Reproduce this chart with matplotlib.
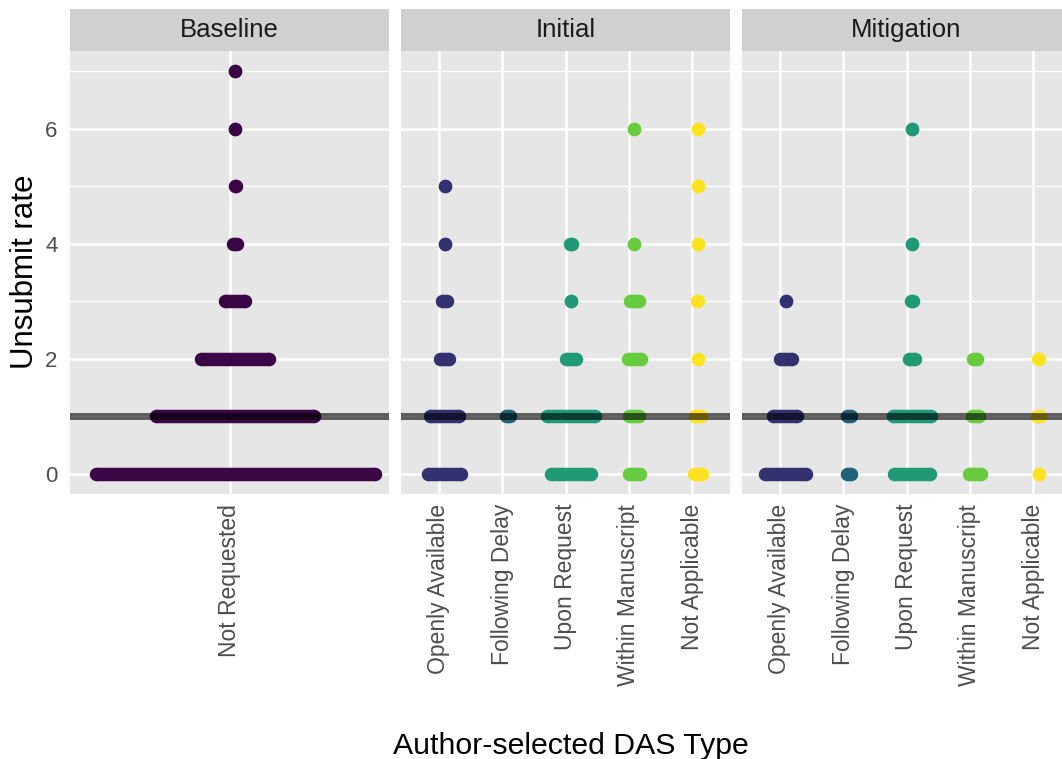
import matplotlib
matplotlib.use("Agg")
import matplotlib.pyplot as plt
from matplotlib.ticker import FixedLocator

plt.rcParams['font.family'] = ['Liberation Sans', 'DejaVu Sans']

# ---------------- data ----------------
panels = ["Baseline", "Initial", "Mitigation"]
baseline_categories = ["Not Requested"]
das_categories = ["Openly Available", "Following Delay", "Upon Request",
                  "Within Manuscript", "Not Applicable"]
category_colors = {
    "Not Requested": "#3a0646",
    "Openly Available": "#33316f",
    "Following Delay": "#21627b",
    "Upon Request": "#1f9a74",
    "Within Manuscript": "#67cb3f",
    "Not Applicable": "#fde21f",
}
y_ticks = [0, 2, 4, 6]
reference_rate = 1

# each streak: (unsubmit rate, leftmost jitter offset, rightmost jitter offset)
baseline_not_requested = [(7, 0.021, 0.021), (6, 0.021, 0.021), (5, 0.019, 0.026),
                          (4, 0.013, 0.028), (3, -0.017, 0.058), (2, -0.107, 0.149),
                          (1, -0.275, 0.316), (0, -0.504, 0.546)]

initial_openly_available = [(5, 0.09, 0.09), (4, 0.09, 0.09), (3, 0.055, 0.125),
                            (2, 0.024, 0.16), (1, -0.134, 0.316), (0, -0.166, 0.347)]
initial_following_delay = [(1, 0.055, 0.13)]
initial_upon_request = [(4, 0.065, 0.107), (3, 0.09, 0.09), (2, 0.013, 0.163),
                        (1, -0.29, 0.466), (0, -0.23, 0.40)]
initial_within_manuscript = [(6, 0.09, 0.09), (4, 0.09, 0.09), (3, 0.024, 0.155),
                             (2, -0.008, 0.186), (1, 0.008, 0.166), (0, 0.008, 0.17)]
initial_not_applicable = [(6, 0.09, 0.09), (5, 0.09, 0.09), (4, 0.09, 0.09),
                          (3, 0.08, 0.10), (2, 0.09, 0.09), (1, 0.04, 0.134),
                          (0, 0.024, 0.156)]

mitigation_openly_available = [(3, 0.089, 0.089), (2, -0.005, 0.184),
                               (1, -0.105, 0.274), (0, -0.242, 0.416)]
mitigation_following_delay = [(1, 0.058, 0.116), (0, 0.058, 0.116)]
mitigation_upon_request = [(6, 0.084, 0.084), (4, 0.084, 0.084), (3, 0.068, 0.105),
                           (2, 0.037, 0.13), (1, -0.216, 0.384), (0, -0.2, 0.368)]
mitigation_within_manuscript = [(2, 0.058, 0.121), (1, 0.032, 0.153), (0, -0.005, 0.184)]
mitigation_not_applicable = [(2, 0.079, 0.095), (1, 0.063, 0.11), (0, 0.089, 0.089)]

panel_data = {
    "Baseline": [baseline_not_requested],
    "Initial": [initial_openly_available, initial_following_delay, initial_upon_request,
                initial_within_manuscript, initial_not_applicable],
    "Mitigation": [mitigation_openly_available, mitigation_following_delay,
                   mitigation_upon_request, mitigation_within_manuscript,
                   mitigation_not_applicable],
}
panel_categories = {"Baseline": baseline_categories,
                    "Initial": das_categories,
                    "Mitigation": das_categories}

# ---------------- layout ----------------
W, H = 1062, 759
fig = plt.figure(figsize=(W / 100, H / 100), dpi=100)
panel_px = {"Baseline": (70, 389), "Initial": (401, 730), "Mitigation": (742, 1071)}
top_px, bottom_px = 51, 494
strip_top_px = 9

panel_bg = "#e6e6e6"
strip_bg = "#d0d0d0"
dot = 9.7  # points

for name in panels:
    x0, x1 = panel_px[name]
    ax = fig.add_axes([x0 / W, 1 - bottom_px / H, (x1 - x0) / W, (bottom_px - top_px) / H])
    cats = panel_categories[name]
    ax.set_facecolor(panel_bg)
    for s in ax.spines.values():
        s.set_visible(False)
    ax.set_xlim(0.4, len(cats) + 0.6)
    ax.set_ylim(-0.35, 7.35)
    ax.yaxis.set_major_locator(FixedLocator(y_ticks))
    ax.yaxis.set_minor_locator(FixedLocator([1, 3, 5, 7]))
    ax.set_xticks(range(1, len(cats) + 1))
    ax.set_xticklabels(cats, rotation=90, fontsize=16.5, color="#4d4d4d")
    ax.grid(which="major", axis="both", color="white", lw=1.8, zorder=0)
    ax.grid(which="minor", axis="y", color="white", lw=0.9, zorder=0)
    ax.set_axisbelow(True)
    ax.tick_params(axis="both", which="both", length=0)
    ax.tick_params(axis="x", pad=7)
    ax.tick_params(axis="y", pad=9, labelsize=16, labelcolor="#4d4d4d")
    if name != "Baseline":
        ax.set_yticklabels([])

    for i, (cat, streaks) in enumerate(zip(cats, panel_data[name])):
        pos = i + 1
        col = category_colors[cat]
        for rate, lo, hi in streaks:
            ax.plot([pos + lo, pos + hi], [rate, rate], color=col, lw=dot,
                    solid_capstyle="butt", zorder=3)
            ax.plot([pos + lo, pos + hi], [rate, rate], ls="none", marker="o",
                    ms=dot, mew=0, color=col, zorder=3)

    ax.axhline(reference_rate, color="black", alpha=0.6, lw=5, zorder=4)

    # strip
    sax = fig.add_axes([x0 / W, 1 - top_px / H, (x1 - x0) / W, (top_px - strip_top_px) / H])
    sax.set_facecolor(strip_bg)
    sax.set_xticks([]); sax.set_yticks([])
    for s in sax.spines.values():
        s.set_visible(False)
    sax.text(0.5, 0.5, name, ha="center", va="center", fontsize=18.5, color="#1a1a1a",
             transform=sax.transAxes)

fig.text(25 / W, 1 - 272 / H, "Unsubmit rate", rotation=90, ha="center", va="center",
         fontsize=22.5, color="black")
fig.text(570.5 / W, 1 - 754 / H, "Author-selected DAS Type", ha="center", va="baseline",
         fontsize=21.8, color="black")

fig.savefig("out.png", dpi=100)
